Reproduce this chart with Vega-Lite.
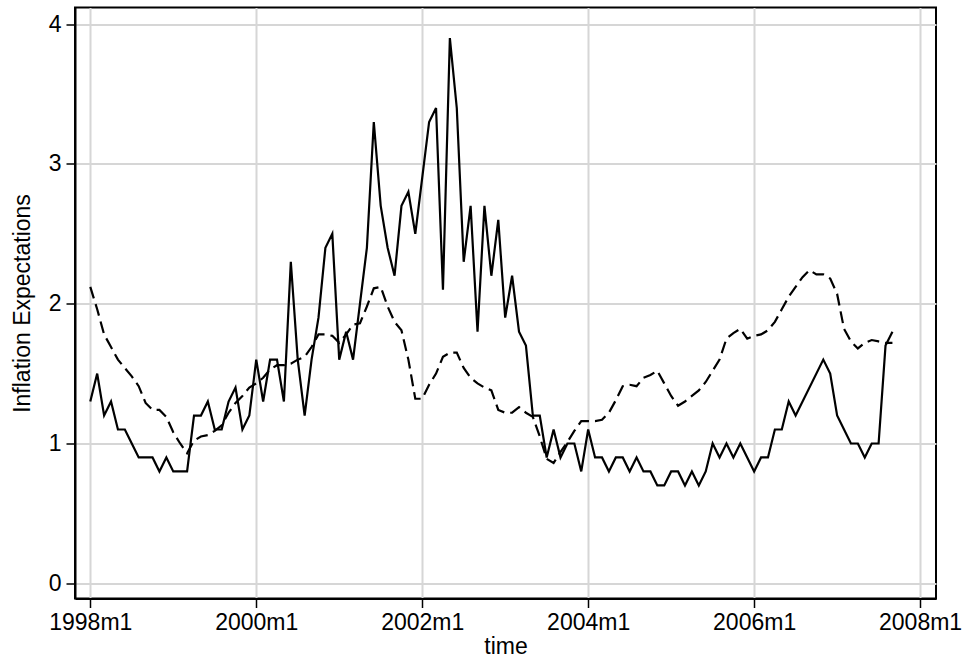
{
  "$schema": "https://vega.github.io/schema/vega-lite/v6.json",
  "autosize": "none",
  "width": 861,
  "height": 591,
  "padding": {"left": 75, "top": 7.5, "right": 27, "bottom": 62.5},
  "background": "white",
  "config": {
    "view": {"stroke": "#000000", "strokeWidth": 2},
    "font": "Liberation Sans",
    "axis": {
      "labelFont": "Liberation Sans",
      "titleFont": "Liberation Sans",
      "labelFontSize": 23,
      "titleFontSize": 23,
      "labelColor": "#000000",
      "titleColor": "#000000",
      "titleFontWeight": "normal",
      "domainColor": "#000000",
      "domainWidth": 2,
      "tickColor": "#000000",
      "tickWidth": 1.5,
      "tickSize": 9,
      "gridColor": "#d6d6d6",
      "gridWidth": 2,
      "gridOpacity": 1
    }
  },
  "data": {
    "values": [
      {"t":0,"actual":1.3,"expected":2.12},
      {"t":1,"actual":1.5,"expected":1.96},
      {"t":2,"actual":1.2,"expected":1.78},
      {"t":3,"actual":1.3,"expected":1.69},
      {"t":4,"actual":1.1,"expected":1.6},
      {"t":5,"actual":1.1,"expected":1.54},
      {"t":6,"actual":1.0,"expected":1.48},
      {"t":7,"actual":0.9,"expected":1.41},
      {"t":8,"actual":0.9,"expected":1.29},
      {"t":9,"actual":0.9,"expected":1.24},
      {"t":10,"actual":0.8,"expected":1.24},
      {"t":11,"actual":0.9,"expected":1.19},
      {"t":12,"actual":0.8,"expected":1.08},
      {"t":13,"actual":0.8,"expected":1.0},
      {"t":14,"actual":0.8,"expected":0.93},
      {"t":15,"actual":1.2,"expected":1.02},
      {"t":16,"actual":1.2,"expected":1.05},
      {"t":17,"actual":1.3,"expected":1.06},
      {"t":18,"actual":1.1,"expected":1.09},
      {"t":19,"actual":1.1,"expected":1.13},
      {"t":20,"actual":1.3,"expected":1.22},
      {"t":21,"actual":1.4,"expected":1.29},
      {"t":22,"actual":1.1,"expected":1.34},
      {"t":23,"actual":1.2,"expected":1.4},
      {"t":24,"actual":1.6,"expected":1.43},
      {"t":25,"actual":1.3,"expected":1.47},
      {"t":26,"actual":1.6,"expected":1.53},
      {"t":27,"actual":1.6,"expected":1.56},
      {"t":28,"actual":1.3,"expected":1.56},
      {"t":29,"actual":2.3,"expected":1.57},
      {"t":30,"actual":1.6,"expected":1.6},
      {"t":31,"actual":1.2,"expected":1.62},
      {"t":32,"actual":1.6,"expected":1.69},
      {"t":33,"actual":1.9,"expected":1.78},
      {"t":34,"actual":2.4,"expected":1.78},
      {"t":35,"actual":2.5,"expected":1.77},
      {"t":36,"actual":1.6,"expected":1.72},
      {"t":37,"actual":1.8,"expected":1.78},
      {"t":38,"actual":1.6,"expected":1.85},
      {"t":39,"actual":2.0,"expected":1.86},
      {"t":40,"actual":2.4,"expected":1.98},
      {"t":41,"actual":3.3,"expected":2.11},
      {"t":42,"actual":2.7,"expected":2.12},
      {"t":43,"actual":2.4,"expected":1.98},
      {"t":44,"actual":2.2,"expected":1.87},
      {"t":45,"actual":2.7,"expected":1.81},
      {"t":46,"actual":2.8,"expected":1.6},
      {"t":47,"actual":2.5,"expected":1.32},
      {"t":48,"actual":2.9,"expected":1.32},
      {"t":49,"actual":3.3,"expected":1.42},
      {"t":50,"actual":3.4,"expected":1.5},
      {"t":51,"actual":2.1,"expected":1.62},
      {"t":52,"actual":3.9,"expected":1.65},
      {"t":53,"actual":3.4,"expected":1.65},
      {"t":54,"actual":2.3,"expected":1.54},
      {"t":55,"actual":2.7,"expected":1.47},
      {"t":56,"actual":1.8,"expected":1.43},
      {"t":57,"actual":2.7,"expected":1.4},
      {"t":58,"actual":2.2,"expected":1.38},
      {"t":59,"actual":2.6,"expected":1.24},
      {"t":60,"actual":1.9,"expected":1.22},
      {"t":61,"actual":2.2,"expected":1.22},
      {"t":62,"actual":1.8,"expected":1.26},
      {"t":63,"actual":1.7,"expected":1.22},
      {"t":64,"actual":1.2,"expected":1.19},
      {"t":65,"actual":1.2,"expected":1.05},
      {"t":66,"actual":0.9,"expected":0.89},
      {"t":67,"actual":1.1,"expected":0.86},
      {"t":68,"actual":0.9,"expected":0.94},
      {"t":69,"actual":1.0,"expected":1.01},
      {"t":70,"actual":1.0,"expected":1.09},
      {"t":71,"actual":0.8,"expected":1.16},
      {"t":72,"actual":1.1,"expected":1.16},
      {"t":73,"actual":0.9,"expected":1.16},
      {"t":74,"actual":0.9,"expected":1.17},
      {"t":75,"actual":0.8,"expected":1.22},
      {"t":76,"actual":0.9,"expected":1.31},
      {"t":77,"actual":0.9,"expected":1.41},
      {"t":78,"actual":0.8,"expected":1.42},
      {"t":79,"actual":0.9,"expected":1.41},
      {"t":80,"actual":0.8,"expected":1.47},
      {"t":81,"actual":0.8,"expected":1.49},
      {"t":82,"actual":0.7,"expected":1.52},
      {"t":83,"actual":0.7,"expected":1.43},
      {"t":84,"actual":0.8,"expected":1.34},
      {"t":85,"actual":0.8,"expected":1.27},
      {"t":86,"actual":0.7,"expected":1.3},
      {"t":87,"actual":0.8,"expected":1.34},
      {"t":88,"actual":0.7,"expected":1.38},
      {"t":89,"actual":0.8,"expected":1.44},
      {"t":90,"actual":1.0,"expected":1.52},
      {"t":91,"actual":0.9,"expected":1.6},
      {"t":92,"actual":1.0,"expected":1.75},
      {"t":93,"actual":0.9,"expected":1.79},
      {"t":94,"actual":1.0,"expected":1.82},
      {"t":95,"actual":0.9,"expected":1.75},
      {"t":96,"actual":0.8,"expected":1.77},
      {"t":97,"actual":0.9,"expected":1.78},
      {"t":98,"actual":0.9,"expected":1.81},
      {"t":99,"actual":1.1,"expected":1.87},
      {"t":100,"actual":1.1,"expected":1.96},
      {"t":101,"actual":1.3,"expected":2.05},
      {"t":102,"actual":1.2,"expected":2.12},
      {"t":103,"actual":null,"expected":2.19},
      {"t":104,"actual":null,"expected":2.24},
      {"t":105,"actual":null,"expected":2.21},
      {"t":106,"actual":1.6,"expected":2.21},
      {"t":107,"actual":1.5,"expected":2.18},
      {"t":108,"actual":1.2,"expected":2.07},
      {"t":109,"actual":1.1,"expected":1.82},
      {"t":110,"actual":1.0,"expected":1.73},
      {"t":111,"actual":1.0,"expected":1.68},
      {"t":112,"actual":0.9,"expected":1.72},
      {"t":113,"actual":1.0,"expected":1.74},
      {"t":114,"actual":1.0,"expected":1.73},
      {"t":115,"actual":1.7,"expected":1.72},
      {"t":116,"actual":1.8,"expected":1.72}
    ]
  },
  "encoding": {
    "x": {
      "field": "t",
      "type": "quantitative",
      "title": "time",
      "scale": {"domain": [-2.21, 122.3], "nice": false, "zero": false},
      "axis": {
        "values": [0, 24, 48, 72, 96, 120],
        "labelExpr": "(1998 + datum.value / 12) + 'm1'",
        "labelPadding": 4,
        "titlePadding": 1,
        "labelFlush": false
      }
    }
  },
  "layer": [
    {
      "mark": {"type": "line", "color": "#000000", "strokeWidth": 2.2, "strokeDash": [12, 6], "invalid": "filter"},
      "encoding": {
        "y": {
          "field": "expected",
          "type": "quantitative",
          "title": "Inflation Expectations",
          "scale": {"domain": [-0.109, 4.119], "nice": false, "zero": false},
          "axis": {"values": [0, 1, 2, 3, 4], "format": "d", "labelPadding": 5, "titlePadding": 14}
        }
      }
    },
    {
      "mark": {"type": "line", "color": "#000000", "strokeWidth": 2.2, "invalid": "filter"},
      "encoding": {
        "y": {"field": "actual", "type": "quantitative"}
      }
    }
  ]
}
